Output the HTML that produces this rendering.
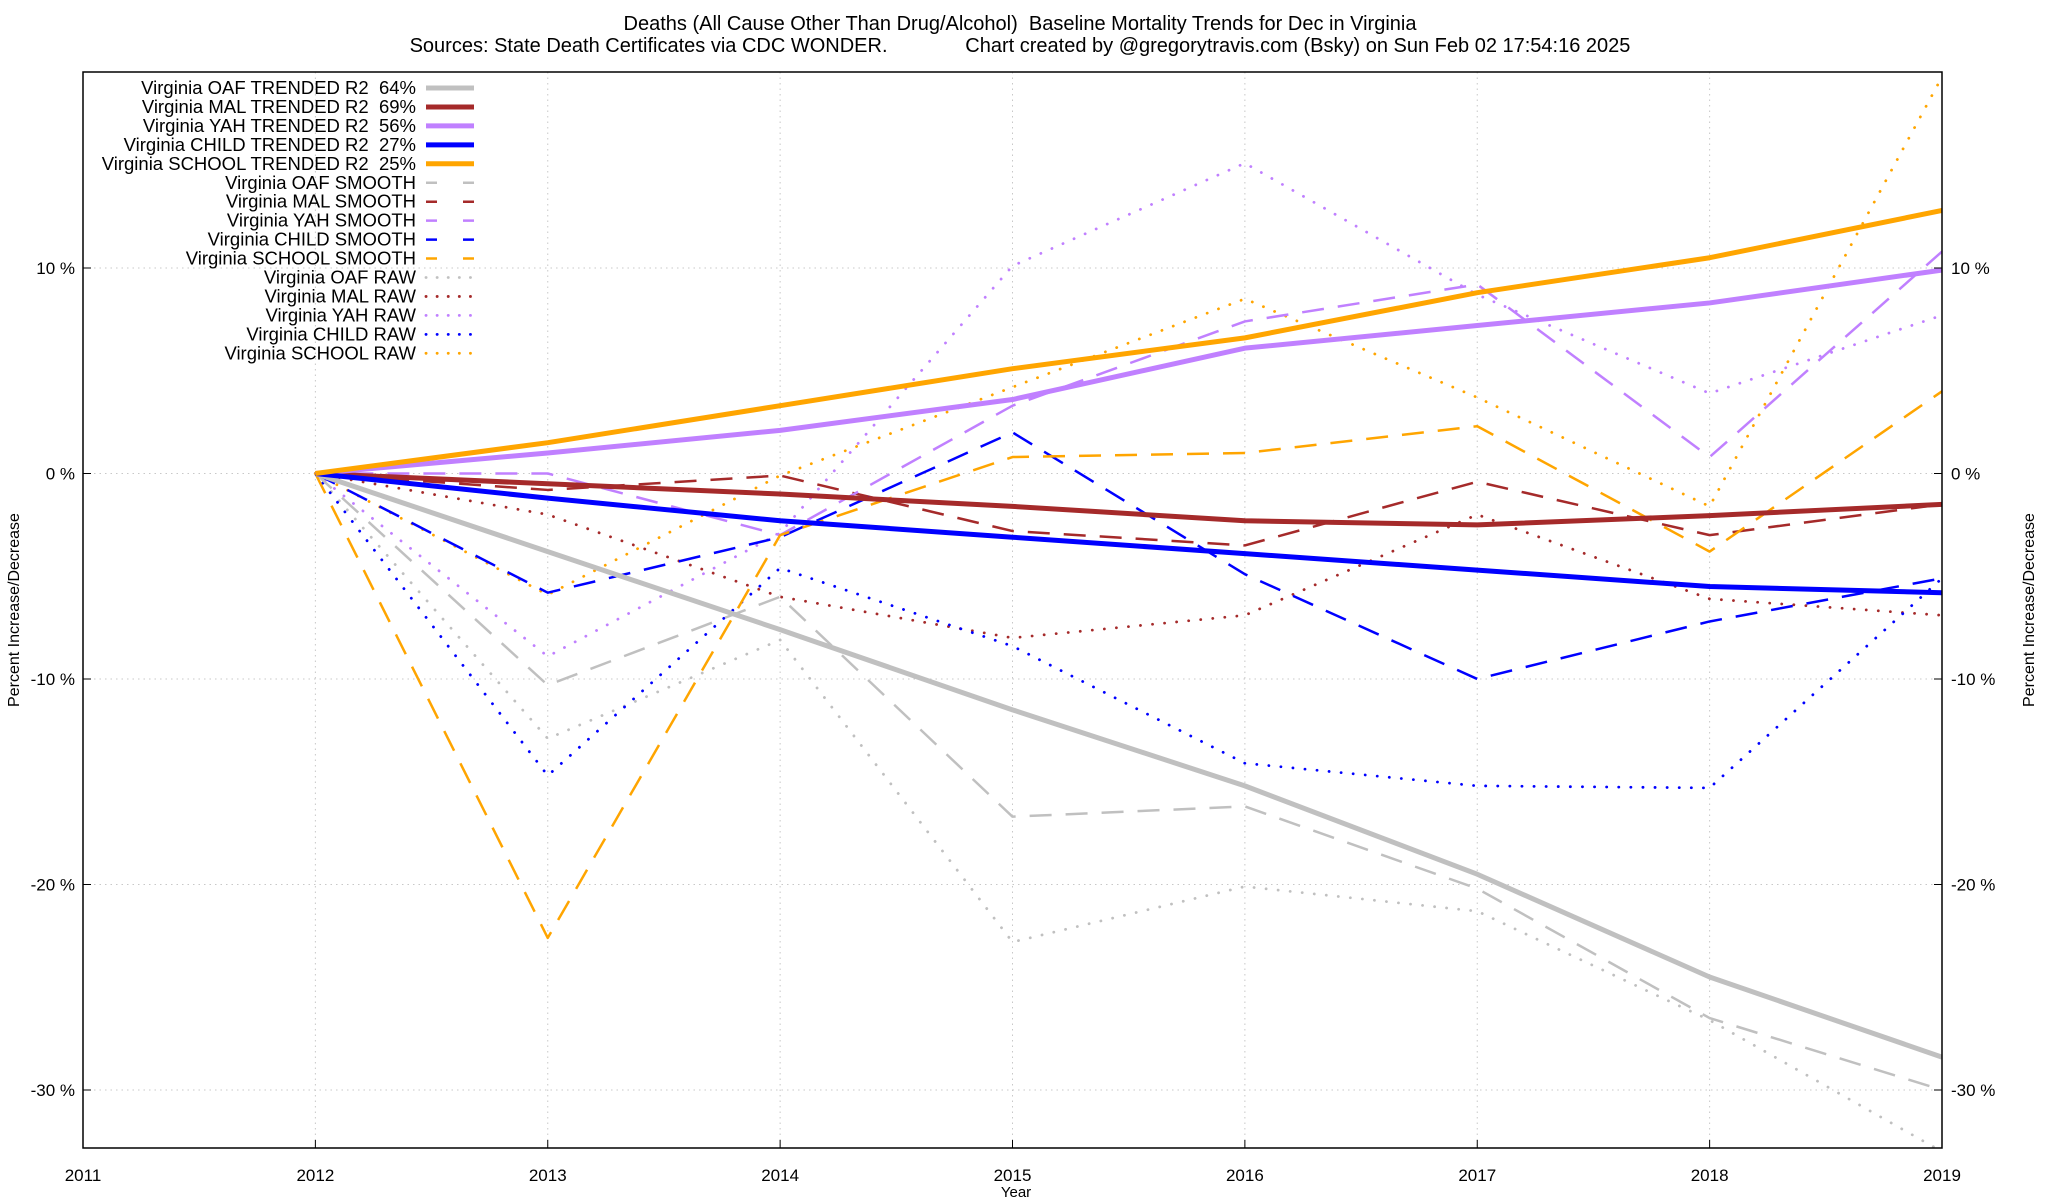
<!DOCTYPE html>
<html><head><meta charset="utf-8"><style>
html,body{margin:0;padding:0;background:#fff}
svg{display:block;font-family:"Liberation Sans",Arial,sans-serif}
svg text{white-space:pre}
</style></head><body>
<svg id="chart" width="2048" height="1200" viewBox="0 0 2048 1200" xmlns="http://www.w3.org/2000/svg">
<text x="1020" y="30" font-size="20" text-anchor="middle" style="white-space:pre">Deaths (All Cause Other Than Drug/Alcohol)  Baseline Mortality Trends for Dec in Virginia</text>
<text x="1020" y="52" font-size="20" text-anchor="middle" style="white-space:pre">Sources: State Death Certificates via CDC WONDER.              Chart created by @gregorytravis.com (Bsky) on Sun Feb 02 17:54:16 2025</text>
<g id="grid"></g><g id="series"></g><g id="axes"></g><g id="legend"></g>
<text x="1016" y="1197" font-size="15" text-anchor="middle">Year</text>
<text transform="translate(19,610) rotate(-90)" font-size="16" text-anchor="middle">Percent Increase/Decrease</text>
<text transform="translate(2034,610) rotate(-90)" font-size="16" text-anchor="middle">Percent Increase/Decrease</text>
</svg>
<script>
const years=[2012,2013,2014,2015,2016,2017,2018,2019];
const xTicks=[2011,2012,2013,2014,2015,2016,2017,2018,2019];
const yTicks=[-30,-20,-10,0,10];
const oafTrend=[0,-3.8,-7.6,-11.5,-15.2,-19.5,-24.5,-28.4];
const malTrend=[0,-0.5,-1.0,-1.6,-2.3,-2.5,-2.05,-1.5];
const yahTrend=[0,1.0,2.1,3.6,6.1,7.2,8.3,9.9];
const childTrend=[0,-1.2,-2.3,-3.1,-3.9,-4.7,-5.5,-5.8];
const schoolTrend=[0,1.5,3.3,5.1,6.6,8.8,10.5,12.8];
const oafSmooth=[0,-10.3,-6.0,-16.7,-16.2,-20.2,-26.5,-30.0];
const malSmooth=[0,-0.8,-0.1,-2.8,-3.5,-0.4,-3.0,-1.5];
const yahSmooth=[0,0,-3.0,3.3,7.4,9.2,0.8,10.8];
const childSmooth=[0,-5.8,-3.1,2.0,-4.9,-10.0,-7.2,-5.1];
const schoolSmooth=[0,-22.6,-3.0,0.8,1.0,2.3,-3.8,4.0];
const oafRaw=[0,-12.9,-8.1,-22.8,-20.1,-21.3,-26.6,-33.0];
const malRaw=[0,-2.0,-6.0,-8.0,-6.9,-2.0,-6.1,-6.9];
const yahRaw=[0,-8.9,-2.9,10.1,15.1,8.7,3.9,7.7];
const childRaw=[0,-14.7,-4.6,-8.4,-14.1,-15.2,-15.3,-5.1];
const schoolRaw=[0,-5.9,-0.1,4.2,8.5,3.7,-1.6,19.3];

const L=83,R=1942,T=72,B=1148;
const x=v=>L+(v-2011)*(R-L)/8;
const y=v=>268+(10-v)*20.55;
const NS='http://www.w3.org/2000/svg';
function mk(tag,attrs,parent){const e=document.createElementNS(NS,tag);for(const k in attrs)e.setAttribute(k,attrs[k]);parent.appendChild(e);return e;}
const grid=document.getElementById('grid'),axes=document.getElementById('axes'),ser=document.getElementById('series'),leg=document.getElementById('legend');
xTicks.forEach(t=>{
  if(t>2011&&t<2019){const g=mk('line',{x1:x(t),x2:x(t),y1:T,y2:B,stroke:'#c8c8c8','stroke-width':1,'stroke-dasharray':'1.5 4'},grid);
  
  }
  const tk=mk('line',{x1:x(t),x2:x(t),y1:B,y2:B-8,stroke:'#000'},axes);
  
  
  const tl=mk('text',{x:x(t),y:1181,'font-size':17,'text-anchor':'middle'},axes);tl.textContent=t;
  
  
});
yTicks.forEach(t=>{
  const g=mk('line',{x1:L,x2:R,y1:y(t),y2:y(t),stroke:'#c8c8c8','stroke-width':1,'stroke-dasharray':'1.5 4'},grid);
  
  
  mk('line',{x1:L,x2:L+8,y1:y(t),y2:y(t),stroke:'#000'},axes);
  mk('line',{x1:R,x2:R-8,y1:y(t),y2:y(t),stroke:'#000'},axes);
  const a=mk('text',{x:75,y:y(t)+6,'font-size':17,'text-anchor':'end'},axes);a.textContent=t+' %';
  
  
  const b=mk('text',{x:1951,y:y(t)+6,'font-size':17},axes);b.textContent=t+' %';
  
  
});
const fr=mk('rect',{x:L,y:T,width:R-L,height:B-T,fill:'none',stroke:'#000','stroke-width':1.5},axes);


mk('clipPath',{id:'clip'},ser);
mk('rect',{x:L,y:T,width:R-L,height:B-T},ser.lastChild);
const C={OAF:'#c0c0c0',MAL:'#a52a2a',YAH:'#c080ff',CHILD:'#0000ff',SCHOOL:'#ffa500'};
const styles={TRENDED:{w:5,d:'',cap:'butt'},SMOOTH:{w:2.5,d:'22 14',cap:'butt'},RAW:{w:2.8,d:'0.1 12',cap:'round'}};
const list=[
 ['OAF','TRENDED',oafTrend,'R2  64%'],['MAL','TRENDED',malTrend,'R2  69%'],['YAH','TRENDED',yahTrend,'R2  56%'],['CHILD','TRENDED',childTrend,'R2  27%'],['SCHOOL','TRENDED',schoolTrend,'R2  25%'],
 ['OAF','SMOOTH',oafSmooth,''],['MAL','SMOOTH',malSmooth,''],['YAH','SMOOTH',yahSmooth,''],['CHILD','SMOOTH',childSmooth,''],['SCHOOL','SMOOTH',schoolSmooth,''],
 ['OAF','RAW',oafRaw,''],['MAL','RAW',malRaw,''],['YAH','RAW',yahRaw,''],['CHILD','RAW',childRaw,''],['SCHOOL','RAW',schoolRaw,'']];
const order=[10,11,12,13,14,5,6,7,8,9,0,1,2,3,4];
order.forEach(i=>{const [g,k,vals]=list[i];const s=styles[k];
  const p=mk('polyline',{points:vals.map((v,j)=>x(years[j])+','+y(v)).join(' '),fill:'none',stroke:C[g],'stroke-width':s.w,'stroke-dasharray':s.d,'stroke-linecap':s.cap,'stroke-linejoin':'round','clip-path':'url(#clip)'},ser);
  
  
});
list.forEach(([g,k,vals,r2],i)=>{const s=styles[k];const yy=88+i*18.95;
  const t=mk('text',{x:416,y:yy+6,'font-size':18.5,'text-anchor':'end',style:'white-space:pre'},leg);
  t.textContent='Virginia '+g+' '+k+(r2?' '+r2:'');
  
  
  const l=mk('line',{x1:426,x2:474,y1:yy,y2:yy,stroke:C[g],'stroke-width':s.w,'stroke-dasharray':k==='SMOOTH'?'11 26':(k==='RAW'?'0.1 11':''),'stroke-linecap':s.cap},leg);
  
  
});
</script>
</body></html>
